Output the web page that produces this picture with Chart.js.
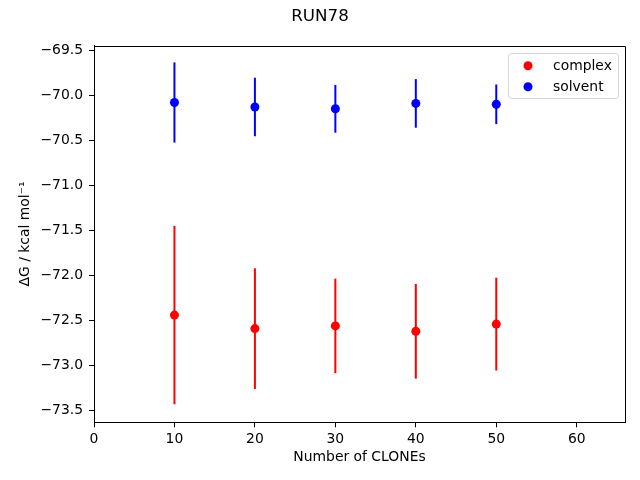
<!DOCTYPE html>
<html>
<head>
<meta charset="utf-8">
<script src="https://cdn.jsdelivr.net/npm/chart.js@4.4.1/dist/chart.umd.min.js"></script>
<style>
  html, body { margin: 0; padding: 0; background: #ffffff; }
  #wrap { width: 640px; height: 480px; }
</style>
</head>
<body>
<div id="wrap"><canvas id="c" width="640" height="480"></canvas></div>
<script>
// ---- data ----
const chartTitle = 'RUN78';
const xLabel = 'Number of CLONEs';
const yLabel = '\u0394G / kcal mol\u207B\u00B9';
const clones = [10, 20, 30, 40, 50];
const complexMean = [-72.44, -72.59, -72.56, -72.62, -72.54];
const complexErr  = [0.99, 0.67, 0.525, 0.525, 0.515];
const solventMean = [-70.08, -70.13, -70.15, -70.09, -70.10];
const solventErr  = [0.445, 0.325, 0.265, 0.27, 0.22];
const seriesNames = ['complex', 'solvent'];
const xTicks = [0, 10, 20, 30, 40, 50, 60];
const yTicks = [-73.5, -73.0, -72.5, -72.0, -71.5, -71.0, -70.5, -70.0, -69.5];
const xRange = [0, 66];
const yRange = [-73.63, -69.45];

const FONT = 'DejaVu Sans';
const fmtY = v => (v < 0 ? '\u2212' : '') + Math.abs(v).toFixed(1);

function toPoints(xs, ys, es) {
  return xs.map((x, i) => ({ x: x, y: ys[i], err: es[i] }));
}

const errorBarPlugin = {
  id: 'errorBars',
  beforeDatasetsDraw(chart) {
    const ctx = chart.ctx;
    const xs = chart.scales.x, ys = chart.scales.y;
    chart.data.datasets.forEach(ds => {
      ctx.save();
      ctx.strokeStyle = ds.borderColor;
      ctx.lineWidth = 2;
      ds.data.forEach(p => {
        const px = xs.getPixelForValue(p.x);
        ctx.beginPath();
        ctx.moveTo(px, ys.getPixelForValue(p.y + p.err));
        ctx.lineTo(px, ys.getPixelForValue(p.y - p.err));
        ctx.stroke();
      });
      ctx.restore();
    });
  }
};

const framePlugin = {
  id: 'frame',
  afterDraw(chart) {
    const ctx = chart.ctx;
    const a = chart.chartArea;
    ctx.save();
    ctx.strokeStyle = '#000';
    ctx.lineWidth = 1;
    ctx.beginPath();
    ctx.moveTo(Math.round(a.left) + 0.5, Math.round(a.top) + 0.5);
    ctx.lineTo(Math.round(a.right) + 0.5, Math.round(a.top) + 0.5);
    ctx.lineTo(Math.round(a.right) + 0.5, Math.round(a.bottom) + 0.5);
    ctx.stroke();
    ctx.restore();

    // legend (matplotlib style, inside axes, upper right)
    const pad = 7;
    const boxW = 110, boxH = 45;
    const bx = a.right - pad - boxW, by = a.top + pad;
    ctx.save();
    ctx.fillStyle = 'rgba(255,255,255,0.8)';
    ctx.strokeStyle = 'rgba(204,204,204,0.8)';
    ctx.lineWidth = 1;
    ctx.beginPath();
    ctx.roundRect(Math.round(bx) + 0.5, Math.round(by) + 0.5, boxW, boxH, 3);
    ctx.fill();
    ctx.stroke();
    ctx.font = '13.9px "' + FONT + '"';
    ctx.textBaseline = 'middle';
    ctx.textAlign = 'left';
    chart.data.datasets.forEach((ds, i) => {
      const cy = by + 13 + i * 21;
      ctx.fillStyle = ds.backgroundColor;
      ctx.beginPath();
      ctx.arc(bx + 20, cy, 4.5, 0, Math.PI * 2);
      ctx.fill();
      ctx.fillStyle = '#000';
      ctx.fillText(ds.label, bx + 45, cy + 0.5);
    });
    ctx.restore();
  }
};

new Chart(document.getElementById('c'), {
  type: 'scatter',
  data: {
    datasets: [
      { label: seriesNames[0], data: toPoints(clones, complexMean, complexErr),
        backgroundColor: '#ff0000', borderColor: '#ff0000', pointRadius: 4.5, pointHoverRadius: 4.5, borderWidth: 0 },
      { label: seriesNames[1], data: toPoints(clones, solventMean, solventErr),
        backgroundColor: '#0000ff', borderColor: '#0000ff', pointRadius: 4.5, pointHoverRadius: 4.5, borderWidth: 0 }
    ]
  },
  options: {
    responsive: false,
    animation: false,
    devicePixelRatio: 1,
    layout: { padding: 0 },
    plugins: {
      legend: { display: false },
      tooltip: { enabled: false },
      title: {
        display: true,
        text: chartTitle,
        color: '#000',
        font: { family: FONT, size: 16.7, weight: 'normal', lineHeight: 1.2 },
        padding: { top: 7, bottom: 18.7 }
      }
    },
    scales: {
      x: {
        type: 'linear',
        min: xRange[0], max: xRange[1],
        afterFit(s) { s.height = 480 - 422.3 - 0; },
        afterBuildTicks(s) { s.ticks = xTicks.map(v => ({ value: v })); },
        ticks: { color: '#000', font: { family: FONT, size: 13.9 }, padding: 4, maxRotation: 0, autoSkip: false,
                 callback: v => String(v) },
        grid: { display: true, drawOnChartArea: false, drawTicks: true, tickLength: 5, tickColor: '#000', tickWidth: 1 },
        border: { display: true, color: '#000', width: 1 },
        title: { display: true, text: xLabel, color: '#000', font: { family: FONT, size: 13.9, lineHeight: 1.2 },
                 padding: { top: 0, bottom: 14.7 } }
      },
      y: {
        type: 'linear',
        min: yRange[0], max: yRange[1],
        afterFit(s) { s.width = 94; },
        afterBuildTicks(s) { s.ticks = yTicks.map(v => ({ value: v })); },
        ticks: { color: '#000', font: { family: FONT, size: 13.9 }, padding: 6, autoSkip: false,
                 callback: v => fmtY(v) },
        grid: { display: true, drawOnChartArea: false, drawTicks: true, tickLength: 5, tickColor: '#000', tickWidth: 1 },
        border: { display: true, color: '#000', width: 1 },
        title: { display: true, text: yLabel, color: '#000', font: { family: FONT, size: 13.9, lineHeight: 1.2 },
                 padding: { top: 17, bottom: 0 } }
      },
      yPad: {
        type: 'linear',
        position: 'right',
        display: true,
        afterFit(s) { s.width = 15; },
        ticks: { display: false },
        grid: { display: false },
        border: { display: false }
      }
    }
  },
  plugins: [errorBarPlugin, framePlugin]
});
</script>
</body>
</html>
